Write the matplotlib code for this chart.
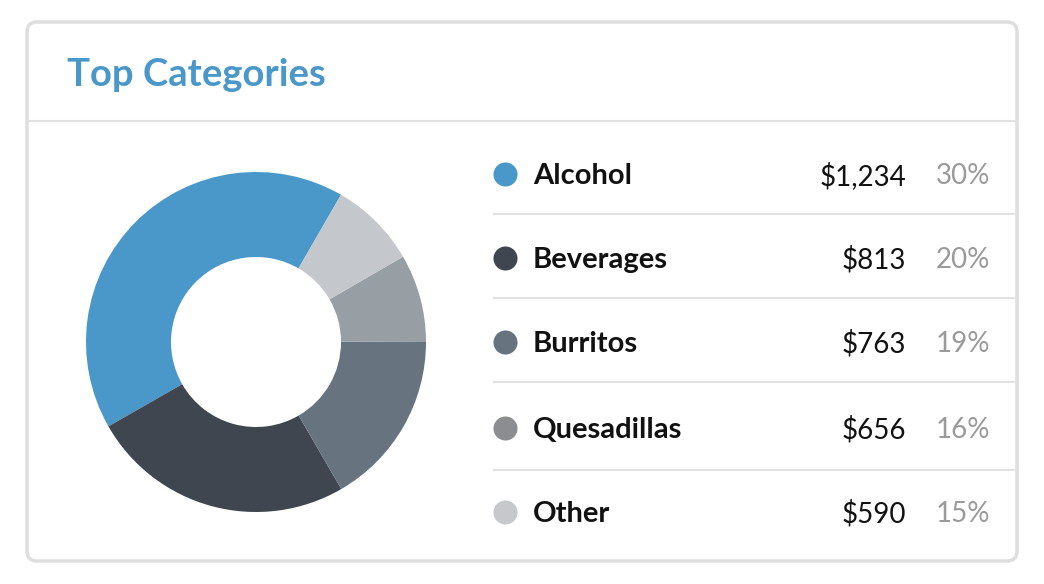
import matplotlib.pyplot as plt
from matplotlib.patches import FancyBboxPatch

# ---- data ----
categories = ["Alcohol", "Beverages", "Burritos", "Quesadillas", "Other"]
amounts = [1234, 813, 763, 656, 590]
percents = [30, 20, 19, 16, 15]
# the donut itself is drawn with these shares
donut_shares = [41.6, 25.1, 16.7, 8.3, 8.3]

slice_colors = ["#4a98c9", "#3f4650", "#67737f", "#979ea4", "#c4c7cc"]
dot_colors = ["#4a98c9", "#3f4650", "#67737f", "#8b8d90", "#c6c8cc"]

W, H = 1044, 584
fig = plt.figure(figsize=(W / 100, H / 100), dpi=100)
fig.patch.set_facecolor("white")

# full-figure axes in pixel coords (y from top)
bg = fig.add_axes([0, 0, 1, 1])
bg.set_xlim(0, W)
bg.set_ylim(H, 0)
bg.axis("off")

card = FancyBboxPatch((27, 22), 990, 539, boxstyle="round,pad=0,rounding_size=10",
                      facecolor="white", edgecolor="#dedede", linewidth=2.5)
bg.add_patch(card)
bg.plot([28, 1016], [121, 121], color="#e2e2e2", lw=1.5)

bg.text(67, 75, "Top Categories", color="#4a98c9", fontsize=27.5, fontweight="bold",
        family="Lato", va="center", ha="left")

row_y = [174, 258, 342, 428, 512]
sep_y = [214, 298, 382, 470]
for y in sep_y:
    bg.plot([494, 1016], [y, y], color="#e2e2e2", lw=1.5)

for i, cat in enumerate(categories):
    y = row_y[i] + 2
    bg.scatter([505], [row_y[i]], s=300, color=dot_colors[i], zorder=3, linewidths=0)
    bg.text(533, y, cat, fontsize=21, fontweight="bold", family="Lato",
            color="#111111", va="center", ha="left")
    bg.text(906, y, f"${amounts[i]:,}", fontsize=20, family="Lato",
            color="#111111", va="center", ha="right")
    bg.text(990, y, f"{percents[i]}%", fontsize=20, family="Lato",
            color="#9a9a9a", va="center", ha="right")

# donut: center (256, 342) px, outer radius 170 px
cx, cy, r = 256, 342, 170
pie_ax = fig.add_axes([(cx - r) / W, (H - cy - r) / H, 2 * r / W, 2 * r / H])
pie_ax.pie(donut_shares, colors=slice_colors, startangle=60, counterclock=True,
           radius=1, wedgeprops=dict(width=0.5, linewidth=0))
pie_ax.set_xlim(-1, 1)
pie_ax.set_ylim(-1, 1)
pie_ax.set_aspect("equal")
pie_ax.axis("off")

fig.savefig("out.png", dpi=100, facecolor="white")
